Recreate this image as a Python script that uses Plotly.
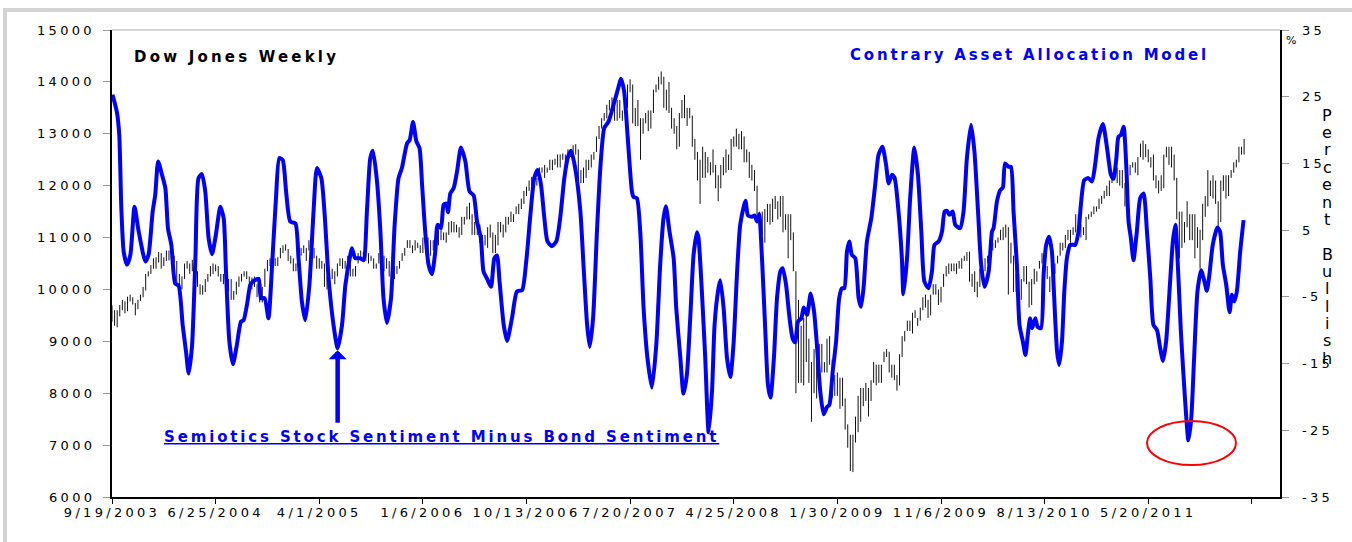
import pandas as pd
import plotly.graph_objects as go

START = pd.Timestamp("2003-09-19")

# Dow Jones weekly range (low / high), one bar per week from 9/19/2003
dow_low = [
    # 2003
    9380, 9300, 9270, 9480, 9600, 9540, 9580, 9770, 9710, 9500, 9620, 9780, 9850, 9980, 10250,
    # 2004
    10300, 10400, 10400, 10520, 10400, 10450, 10550, 10560, 10520, 10520, 10070, 10100, 10000,
    10200, 10400, 10300, 10350, 10200, 10050, 9900, 9900, 9950, 10150, 10250, 10300, 10350,
    10250, 10150, 10100, 9930, 9960, 9800, 9800, 9900, 10050, 10150, 10250, 10200, 10000,
    10000, 10050, 9850, 9750, 9750, 10050, 10350, 10450, 10450, 10450, 10450, 10600, 10700, 10750,
    # 2005
    10550, 10500, 10350, 10350, 10450, 10650, 10700, 10550, 10750, 10750, 10600, 10400, 10400,
    10400, 10050, 10000, 10050, 10200, 10100, 10250, 10450, 10400, 10400, 10500, 10250, 10250,
    10250, 10500, 10600, 10550, 10550, 10500, 10550, 10400, 10400, 10500, 10550, 10350, 10400,
    10250, 10200, 10200, 10300, 10400, 10550, 10650, 10800, 10800, 10700, 10750, 10800, 10700,
    # 2006
    10700, 10900, 10650, 10650, 10750, 10750, 10850, 10950, 10950, 10900, 11050, 11100, 11100,
    11100, 11000, 11050, 11250, 11350, 11350, 11050, 11050, 11050, 10900, 10700, 10850, 10800,
    11000, 10700, 10700, 10850, 11100, 11000, 11100, 11250, 11300, 11300, 11450, 11450, 11550,
    11650, 11800, 11900, 11950, 11950, 12000, 12100, 12250, 12150, 12250, 12300, 12300, 12400,
    # 2007
    12350, 12350, 12500, 12400, 12450, 12550, 12500, 12600, 12100, 12050, 12050, 12150, 12300,
    12350, 12500, 12650, 12900, 13100, 13250, 13300, 13450, 13450, 13250, 13250, 13300, 13250,
    13450, 13500, 13800, 13200, 13150, 13150, 12500, 13000, 13200, 13050, 13100, 13400, 13800,
    13850, 13950, 13500, 13450, 13400, 13100, 13000, 12700, 12750, 13300, 13300, 13150, 13300,
    # 2008
    12750, 12500, 12100, 11650, 12150, 12150, 12250, 12200, 12250, 11950, 11700, 11950, 12200,
    12250, 12300, 12300, 12750, 12750, 12700, 12700, 12450, 12450, 12150, 12100, 11900, 11350,
    11150, 11050, 10900, 11300, 11250, 11300, 11550, 11350, 11400, 11100, 11150, 10600, 10950,
    10350, 8000, 8200, 8200, 8150, 8600, 8200, 7450, 8000, 7900, 8450, 8400, 8400,
    # 2009
    8400, 8550, 7900, 7950, 7950, 7700, 7750, 7300, 6950, 6500, 6480, 7050, 7250,
    7450, 7750, 7850, 7550, 7850, 8200, 8150, 8200, 8200, 8600, 8700, 8400, 8300,
    8250, 8050, 8150, 8700, 9000, 9200, 9200, 9150, 9450, 9300, 9400, 9600, 9650,
    9450, 9500, 9900, 9900, 9700, 9750, 10050, 10250, 10300, 10350, 10350, 10300, 10400,
    # 2010
    10400, 10550, 10550, 10150, 10050, 9950, 9850, 10050, 10250, 10350, 10500, 10600, 10750,
    10800, 10900, 10950, 10950, 11000, 9900, 10500, 9950, 9950, 9900, 9800, 10150, 10100,
    9650, 9700, 10100, 10150, 10400, 10500, 10250, 10200, 9950, 10000, 10300, 10500, 10650,
    10750, 10800, 10950, 10900, 11050, 11100, 11150, 11000, 11050, 10950, 11350, 11400, 11450, 11500,
    # 2011
    11550, 11650, 11750, 11800, 11800, 12050, 12200, 12050, 12000, 11950, 11600, 11850, 12200,
    12350, 12250, 12200, 12550, 12500, 12550, 12450, 12350, 12100, 11950, 11850, 11900, 11950,
    12550, 12400, 12350, 12100, 11350, 10600, 10800, 10900, 11200, 10950, 10950, 10600, 10800,
    10400, 10950, 11400, 11600, 11800, 11750, 11650, 11200, 11300, 11900, 11750, 11800, 12150,
    # 2012
    12250, 12350, 12450, 12600, 12600,
]
dow_high = [
    # 2003
    9690, 9600, 9600, 9700, 9800, 9770, 9860, 9900, 9850, 9740, 9800, 9900, 10050, 10300, 10350,
    # 2004
    10470, 10600, 10620, 10720, 10700, 10620, 10750, 10750, 10680, 10650, 10550, 10300, 10250,
    10500, 10550, 10500, 10570, 10480, 10350, 10100, 10080, 10200, 10300, 10450, 10500, 10480,
    10450, 10300, 10300, 10200, 10200, 10200, 9970, 10150, 10250, 10300, 10350, 10350, 10250,
    10230, 10250, 10100, 9950, 10050, 10400, 10570, 10600, 10550, 10600, 10620, 10800, 10850, 10870,
    # 2005
    10780, 10650, 10600, 10500, 10750, 10800, 10850, 10800, 10950, 10950, 10800, 10650, 10600,
    10550, 10500, 10250, 10250, 10400, 10350, 10500, 10600, 10600, 10550, 10650, 10600, 10400,
    10450, 10700, 10750, 10720, 10700, 10700, 10650, 10600, 10500, 10700, 10700, 10650, 10600,
    10550, 10400, 10450, 10450, 10550, 10700, 10800, 10950, 10950, 10850, 10950, 10900, 10850,
    # 2006
    11000, 11050, 11000, 10950, 10950, 10950, 11150, 11150, 11100, 11100, 11300, 11320, 11300,
    11250, 11200, 11400, 11400, 11600, 11670, 11450, 11300, 11300, 11250, 11050, 11050, 11200,
    11250, 11100, 11050, 11300, 11300, 11250, 11400, 11400, 11500, 11450, 11600, 11650, 11750,
    11900, 11980, 12100, 12170, 12100, 12150, 12350, 12350, 12400, 12350, 12500, 12500, 12520,
    # 2007
    12600, 12600, 12620, 12600, 12700, 12700, 12780, 12800, 12700, 12300, 12350, 12500, 12500,
    12600, 12650, 12950, 13150, 13300, 13400, 13560, 13650, 13700, 13700, 13650, 13650, 13450,
    13650, 13950, 14050, 13950, 13500, 13650, 13300, 13300, 13400, 13450, 13450, 13850, 13950,
    14100, 14200, 14100, 13850, 14000, 13500, 13300, 13150, 13400, 13650, 13750, 13500, 13500,
    # 2008
    13350, 12900, 12650, 12500, 12750, 12650, 12550, 12450, 12700, 12400, 12200, 12400, 12550,
    12700, 12600, 12900, 12950, 13100, 13000, 13050, 12950, 12700, 12650, 12400, 12300, 12000,
    11500, 11500, 11550, 11650, 11650, 11750, 11800, 11700, 11800, 11800, 11450, 11450, 11450,
    11100, 10350, 9800, 9300, 9450, 9650, 9050, 8600, 8850, 8650, 8950, 8950, 8600,
    # 2009
    9050, 9100, 8650, 8350, 8400, 8300, 8300, 7900, 7400, 7200, 7200, 7550, 7950,
    8100, 8100, 8200, 8100, 8250, 8600, 8550, 8550, 8550, 8800, 8850, 8800, 8550,
    8550, 8350, 8750, 9100, 9200, 9400, 9400, 9550, 9600, 9450, 9650, 9850, 9900,
    9800, 9900, 10100, 10100, 10000, 10050, 10300, 10450, 10500, 10500, 10500, 10500, 10550,
    # 2010
    10600, 10650, 10720, 10730, 10300, 10350, 10150, 10400, 10450, 10600, 10650, 10800, 10900,
    10950, 11000, 11150, 11200, 11250, 11200, 10900, 10650, 10300, 10300, 10200, 10450, 10450,
    10150, 10200, 10400, 10350, 10550, 10700, 10700, 10450, 10250, 10450, 10500, 10650, 10900,
    10900, 11050, 11150, 11150, 11200, 11450, 11450, 11250, 11200, 11400, 11450, 11500, 11600, 11600,
    # 2011
    11750, 11800, 11900, 12000, 12100, 12250, 12400, 12350, 12300, 12300, 12050, 12250, 12400,
    12450, 12450, 12550, 12810, 12870, 12800, 12700, 12550, 12600, 12200, 12100, 12200, 12600,
    12750, 12750, 12750, 12600, 12150, 11500, 11500, 11300, 11700, 11450, 11450, 11450, 11200,
    11150, 11650, 11800, 12300, 12100, 12200, 12100, 11700, 12100, 12200, 12200, 12200, 12300,
    # 2012
    12450, 12500, 12750, 12750, 12900,
]

# Contrary Asset Allocation Model (stock minus bond sentiment, %)
# x = weeks after 9/19/2003
sent_week = [
    0.2, 1.9, 2.8, 3.6, 4.5, 5.8, 7.1, 8.7, 10.3, 12.9, 14.1, 15.7, 16.7, 17.8, 19.3, 20.6,
    21.6, 22.9, 24.4, 25.7, 27.3, 28.6, 29.6, 30.9, 32.2, 33.4, 34.7, 36.0, 37.3, 38.6, 40.1,
    41.8, 43.1, 44.0, 45.3, 46.7, 48.2, 49.8, 50.8, 52.1, 53.4, 54.7, 56.6, 57.5, 58.9, 60.4,
    61.8, 63.3, 64.6, 65.9, 67.2, 68.8, 70.8, 72.0, 73.3, 74.6, 76.2, 77.8, 79.1, 80.8, 82.1,
    83.6, 85.5, 87.1, 88.8, 90.1, 92.0, 92.6, 93.9, 95.8, 97.1, 98.4, 99.7, 100.7, 102.3, 103.6,
    104.8, 106.1, 107.7, 109.1, 110.6, 111.9,
    113.9, 114.9, 116.2, 117.5, 118.7, 119.7, 120.9, 122.2, 123.5, 124.8, 125.7, 127.0, 128.0,
    129.0, 129.7, 130.6, 131.9, 133.2, 134.7, 136.4, 138.0, 139.6, 140.9, 142.4, 143.4, 144.8,
    146.3, 147.6, 148.6, 149.6, 151.2, 152.5, 154.4, 156.3, 158.3, 159.9, 161.5, 163.0, 164.3,
    165.6, 166.9, 168.1, 169.8, 171.5, 173.0, 174.6, 175.9, 177.2, 178.8, 180.8, 182.0, 183.4,
    184.4, 185.7, 187.2, 188.5, 190.0, 191.7, 193.6, 195.2, 196.5, 197.7, 199.0, 200.7, 201.3,
    202.6, 203.9, 205.2, 206.7, 208.4, 210.1, 211.6, 212.9, 213.8, 215.2, 216.8, 217.8, 219.4,
    220.6, 221.9, 223.2, 224.5, 225.8,
    226.4, 227.7, 229.0, 230.3, 231.6, 232.6, 233.9, 234.8, 236.1, 237.4, 238.7, 239.9, 241.3,
    242.5, 244.5, 245.5, 247.0, 248.0, 249.0, 249.8, 250.9, 252.2, 253.2, 254.2, 255.5, 256.7,
    258.0, 258.9, 260.2, 261.4, 262.7, 263.7, 264.8, 266.1, 267.0, 268.3, 269.7, 271.0, 272.1,
    273.4, 274.7, 276.0, 276.9, 278.2, 279.5, 280.7, 281.8, 282.7, 283.7, 284.6, 285.6, 286.9,
    288.2, 289.1, 290.1, 291.4, 293.1, 294.6, 295.9, 297.4, 298.8, 299.8, 301.1, 302.1, 303.6,
    304.9, 305.5, 306.9, 308.1, 309.7, 311.1, 312.4, 313.6, 315.2, 316.5, 317.5, 319.1, 320.4,
    321.4, 322.3, 323.2, 324.5, 325.5, 327.4, 328.7, 330.0, 331.6, 332.9, 334.3, 335.5, 336.8,
    338.4, 339.7,
    340.3, 341.6, 342.9, 343.9, 344.7, 346.1, 347.0, 348.0, 349.3, 350.3, 351.6, 352.6, 353.5,
    354.4, 355.2, 356.4, 357.3, 358.6, 359.6, 360.6, 361.7, 362.8, 363.7, 364.8, 365.6, 366.7,
    367.6, 368.6, 369.9, 371.8, 373.1, 374.0, 375.3, 376.9, 378.3, 379.5, 380.8, 382.5, 384.1,
    385.6, 386.6, 387.7, 388.5, 389.5, 390.5, 391.5, 392.4, 393.3, 394.3, 395.6, 396.9, 398.2,
    399.5, 400.8, 402.0, 403.4, 404.6, 405.7, 406.9, 408.2, 409.5, 410.5, 411.6, 412.6, 413.6,
    414.7, 415.5, 416.6, 417.7, 419.0, 420.4, 421.7, 422.6, 423.6, 424.9, 426.7, 427.7, 428.8,
    430.1, 431.4, 432.3, 433.2, 434.2, 435.5, 436.8,
]
sent_value = [
    25.3, 22.7, 19.3, 8.3, 1.8, -0.2, 1.3, 8.5, 4.8, 0.3, 1.3, 7.8, 10.3, 15.3, 13.3, 11.3,
    5.3, 2.8, -3.0, -3.3, -9.3, -13.3, -16.5, -12.3, 0.8, 12.8, 13.4, 10.8, 3.8, 1.4, 4.3,
    8.5, 6.8, -1.2, -11.7, -15.1, -12.2, -8.7, -8.5, -6.2, -3.2, -2.6, -2.3, -5.2, -5.2, -8.2,
    -0.2, 9.8, 15.8, 15.5, 10.8, 6.3, 6.0, 0.8, -5.7, -8.5, -3.2, 7.8, 14.3, 12.8, 7.3,
    -2.2, -9.2, -12.7, -9.2, -3.2, 1.3, 2.3, 0.8, 0.8, 0.5, 7.8, 15.8, 16.9, 12.3, 4.8,
    -5.2, -8.9, -5.2, 5.8, 12.8, 14.3,
    18.0, 18.5, 21.2, 18.3, 17.3, 11.8, 4.8, -0.2, -1.6, 1.8, 5.8, 5.3, 8.8,
    9.0, 7.7, 10.5, 11.3, 13.8, 17.4, 15.3, 10.8, 10.2, 6.3, 3.8, -1.2, -2.3,
    -3.5, 0.8, 1.2, -2.7, -9.2, -11.6, -8.2, -4.2, -4.0, 0.3, 7.3, 12.8, 14.0,
    11.8, 6.8, 3.3, 2.6, 3.3, 6.8, 12.8, 15.8, 16.9, 14.3, 7.8, -0.2, -9.2,
    -12.5, -8.2, 4.8, 14.3, 20.3, 21.3, 23.8, 26.0, 27.7, 25.8, 19.3, 10.8, 10.0,
    9.8, 4.8, -6.7, -14.2, -18.6, -12.2, -0.2, 6.8, 8.6, 4.8, 0.8, -6.7, -14.2,
    -19.5, -16.7, -8.2, 1.3, 4.7,
    3.8, -4.2, -14.2, -25.3, -19.2, -9.2, -4.2, -2.5, -6.7, -14.2, -17.0, -12.2, -1.2,
    5.8, 9.4, 7.2, 7.0, 7.2, 6.3, 7.4, 0.8, -10.2, -18.2, -20.1, -14.2, -5.2,
    -1.2, -0.7, -3.2, -7.7, -11.2, -11.8, -8.7, -8.2, -6.6, -7.7, -4.5, -7.2, -12.2,
    -19.2, -22.6, -21.5, -21.2, -16.2, -11.7, -5.2, -3.7, -3.7, 1.8, 3.3, 1.3, 0.8,
    -5.2, -6.5, -3.7, 3.3, 6.8, 11.8, 16.3, 17.5, 14.8, 12.0, 13.3, 12.8, 7.8,
    0.8, -4.6, 0.8, 9.8, 17.4, 13.3, 4.8, -2.7, -3.7, -1.2, 2.8, 3.3, 4.8,
    7.8, 7.9, 7.3, 7.8, 5.8, 5.3, 7.8, 15.8, 20.8, 16.8, 7.8, -0.2, -3.5,
    -1.2, 4.8,
    5.3, 9.3, 11.0, 11.4, 15.0, 14.5, 14.5, 7.8, -0.2, -9.2, -11.7, -13.7, -10.7,
    -8.2, -9.7, -8.2, -9.5, -9.7, -1.7, 2.8, 4.0, 1.8, -5.2, -13.2, -15.2, -11.7,
    -4.2, 0.8, 2.8, 2.8, 4.8, 8.8, 12.5, 12.8, 12.3, 14.8, 18.8, 20.9, 17.3,
    13.3, 12.7, 15.8, 19.0, 19.3, 20.5, 14.8, 6.3, 3.8, 0.5, 4.8, 9.8, 10.5,
    4.8, -2.2, -9.2, -10.0, -12.7, -14.6, -11.7, -4.2, 3.3, 5.8, -1.7, -10.2, -16.7,
    -23.2, -26.5, -23.2, -14.2, -4.2, -1.0, -2.7, -4.1, -1.7, 2.8, 5.4, 4.8, -0.2,
    -3.2, -7.3, -4.7, -5.7, -4.2, 1.8, 6.5,
]

x_tick_dates = ["2003-09-19", "2004-06-25", "2005-04-01", "2006-01-06", "2006-10-13",
                "2007-07-20", "2008-04-25", "2009-01-30", "2009-11-06", "2010-08-13",
                "2011-05-20", "2012-02-24"]
x_tick_text = ["9/19/2003", "6/25/2004", "4/1/2005", "1/6/2006", "10/13/2006",
               "7/20/2007", "4/25/2008", "1/30/2009", "11/6/2009", "8/13/2010",
               "5/20/2011", ""]
dow_ticks = [6000, 7000, 8000, 9000, 10000, 11000, 12000, 13000, 14000, 15000]
pct_ticks = [-35, -25, -15, -5, 5, 15, 25, 35]

BLUE = "#0000ff"
FONT = "DejaVu Sans"

# plot area in pixels (for placing text / shapes)
PL, PR, PT, PB = 112, 1280, 30, 497


def px(x):
    return (x - PL) / (PR - PL)


def py(y):
    return (PB - y) / (PB - PT)


def wide(s, sp=3.3):
    return f'<span style="letter-spacing:{sp}px">{s}</span>'


dow_dates = pd.date_range(START, periods=len(dow_low), freq="7D")
bar_x, bar_y = [], []
for d, lo, hi in zip(dow_dates, dow_low, dow_high):
    bar_x += [d, d, None]
    bar_y += [lo, hi, None]

sent_dates = [START + pd.Timedelta(days=w * 7) for w in sent_week]

fig = go.Figure()
fig.add_trace(go.Scatter(x=bar_x, y=bar_y, mode="lines",
                         line=dict(color="#111111", width=1), hoverinfo="skip"))
fig.add_trace(go.Scatter(x=sent_dates, y=sent_value, yaxis="y2", mode="lines",
                         line=dict(color=BLUE, width=4, shape="spline", smoothing=0.6)))

fig.update_layout(
    width=1352, height=542,
    margin=dict(l=112, r=72, t=30, b=45),
    paper_bgcolor="white", plot_bgcolor="white",
    showlegend=False,
    font=dict(family=FONT, size=13, color="black"),
    xaxis=dict(type="date", range=[START, "2012-05-10"],
               tickvals=x_tick_dates, ticktext=[wide(t) for t in x_tick_text],
               tickangle=0, ticks="outside", ticklen=5, tickcolor="black",
               ticklabelstandoff=-3,
               showline=True, linecolor="black", linewidth=2,
               showgrid=False, zeroline=False),
    yaxis=dict(range=[6000, 15000], tickvals=dow_ticks, showticklabels=False,
               ticks="outside", ticklen=7, tickcolor="#999999",
               showline=True, linecolor="black", linewidth=2,
               showgrid=False, zeroline=False),
    yaxis2=dict(overlaying="y", side="right", range=[-35, 35], tickvals=pct_ticks,
                showticklabels=False,
                ticks="outside", ticklen=7, tickcolor="#999999",
                showline=True, linecolor="black", linewidth=2,
                showgrid=False, zeroline=False),
)

# value labels for both vertical axes (letter-spaced, like the original)
for v in dow_ticks:
    fig.add_annotation(xref="paper", yref="y", x=px(97), y=v, xanchor="right",
                       yanchor="middle", showarrow=False, text=wide(str(v)),
                       font=dict(family=FONT, size=13, color="black"))
for v in pct_ticks:
    fig.add_annotation(xref="paper", yref="y2", x=px(1300), y=v, xanchor="left",
                       yanchor="middle", showarrow=False, text=wide(str(v)),
                       font=dict(family=FONT, size=13, color="black"))

shapes = [
    # outer frame (top and left)
    dict(type="line", xref="paper", yref="paper", x0=px(3), x1=px(1352), y0=py(10), y1=py(10),
         line=dict(color="#d3d3d3", width=4)),
    dict(type="line", xref="paper", yref="paper", x0=px(5), x1=px(5), y0=py(8), y1=py(542),
         line=dict(color="#d3d3d3", width=4)),
    # top edge of plot area
    dict(type="line", xref="paper", yref="paper", x0=0, x1=1, y0=1, y1=1,
         line=dict(color="#c8c8c8", width=1.5)),
    # red ellipse around the 2011 low
    dict(type="circle", xref="paper", yref="paper", x0=px(1147), x1=px(1236),
         y0=py(465), y1=py(421), line=dict(color="red", width=2)),
]
fig.update_layout(shapes=shapes)

bold_font = dict(family=FONT, size=15)
fig.add_annotation(xref="paper", yref="paper", x=px(132), y=py(57), xanchor="left",
                   yanchor="middle", showarrow=False,
                   text="<b>" + wide("Dow Jones Weekly", 3.2) + "</b>",
                   font=dict(bold_font, color="black"))
fig.add_annotation(xref="paper", yref="paper", x=px(848), y=py(55), xanchor="left",
                   yanchor="middle", showarrow=False,
                   text="<b>" + wide("Contrary Asset Allocation Model", 2.8) + "</b>",
                   font=dict(bold_font, color=BLUE))
fig.add_annotation(xref="paper", yref="paper", x=px(162), y=py(437), xanchor="left",
                   yanchor="middle", showarrow=False,
                   text='<b><span style="letter-spacing:2.85px;text-decoration:underline">'
                        'Semiotics Stock Sentiment Minus Bond Sentiment</span></b>',
                   font=dict(bold_font, color=BLUE))

# arrow pointing at the 2005 sentiment low
fig.add_annotation(x=START + pd.Timedelta(days=87.1 * 7), y=-13.0, xref="x", yref="y2",
                   text="", showarrow=True, ax=0, ay=74, arrowhead=1, arrowsize=0.67,
                   arrowwidth=4.5, arrowcolor=BLUE, standoff=0)

# "%" marker and stacked "Percent Bullish" axis title
fig.add_annotation(xref="paper", yref="paper", x=px(1298), y=py(32), showarrow=False,
                   text="%", font=dict(family=FONT, size=11, color="black"))
for i, ch in enumerate("Percent Bullish"):
    if ch == " ":
        continue
    fig.add_annotation(xref="paper", yref="paper", x=px(1327), y=py(115.3 + i * 17.34),
                       xanchor="center", yanchor="middle", showarrow=False,
                       text=ch, font=dict(family=FONT, size=16, color="black"))

fig.write_html("out.html", config={"displayModeBar": False},
               post_script="document.body.style.margin='0';")
